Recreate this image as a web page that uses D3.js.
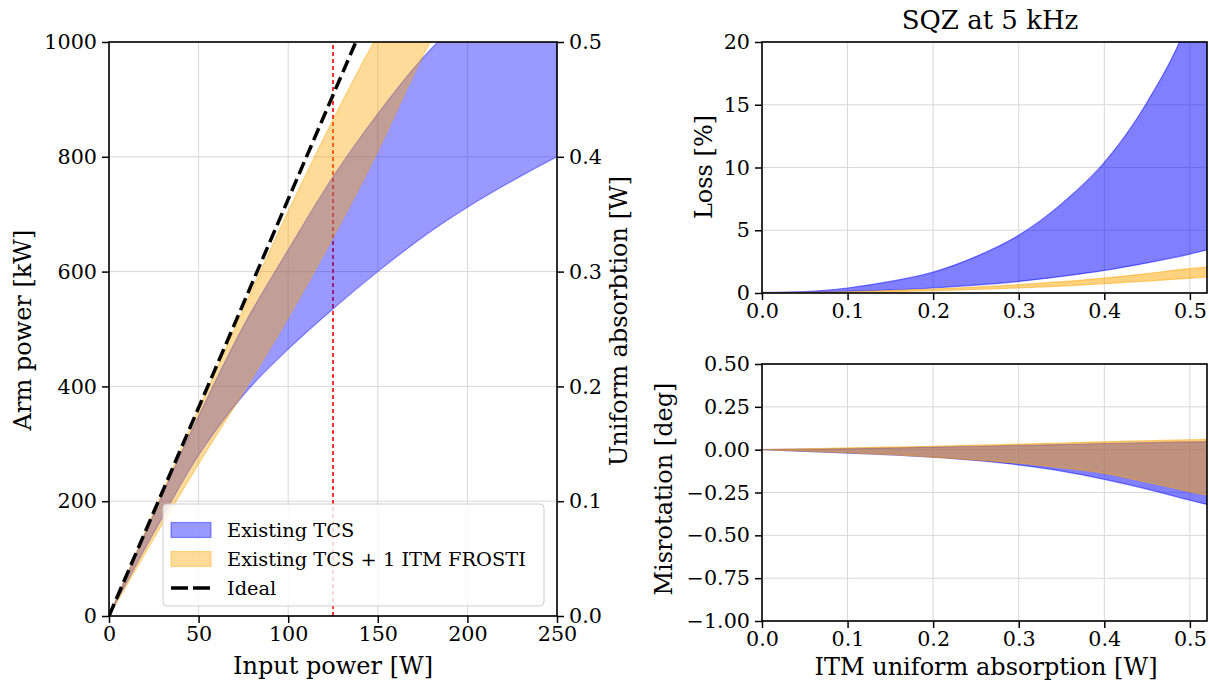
<!DOCTYPE html>
<html>
<head>
<meta charset="utf-8">
<title>Arm power and SQZ</title>
<script src="https://cdnjs.cloudflare.com/ajax/libs/d3/7.8.5/d3.min.js"></script>
<style>
body { margin: 0; background: #fff; }
svg text { font-family: "DejaVu Serif", "Liberation Serif", serif; fill: #000; }
</style>
</head>
<body>
<svg id="chart" width="1209" height="682"></svg>
<script>
// left panel: arm power vs input power
var inputPower = [0, 25, 50, 75, 100, 125, 150, 175, 200, 225, 250];
var tcsArmHigh = [0, 178, 348, 505, 638, 765, 875, 972, 1050, 1120, 1180];
var tcsArmLow = [0, 145, 280, 385, 465, 535, 600, 660, 712, 758, 800];
var frostiArmHigh = [0, 181, 360, 535, 705, 865, 1013, 1150, 1280, 1400, 1510];
var frostiArmLow = [0, 135, 265, 390, 520, 660, 810, 975, 1110, 1240, 1360];
var idealInput = [0, 250];
var idealArm = [0, 1815];
var markerInput = 125;

var powerTicks = [0, 50, 100, 150, 200, 250];
var armTicks = [0, 200, 400, 600, 800, 1000];
var absTicksRight = [0.0, 0.1, 0.2, 0.3, 0.4, 0.5];

// right panels: squeezing at 5 kHz vs ITM absorption
var absorption = [0, 0.05, 0.1, 0.15, 0.2, 0.25, 0.3, 0.35, 0.4, 0.45, 0.5, 0.52];
var tcsLossHigh = [0.05, 0.12, 0.4, 0.92, 1.66, 2.9, 4.6, 7.1, 10.4, 15.2, 22, 26];
var tcsLossLow = [0.05, 0.08, 0.13, 0.24, 0.4, 0.63, 0.92, 1.32, 1.8, 2.4, 3.1, 3.43];
var frostiLossHigh = [0.03, 0.05, 0.1, 0.2, 0.32, 0.48, 0.66, 0.9, 1.19, 1.55, 1.95, 2.06];
var frostiLossLow = [0.02, 0.03, 0.06, 0.11, 0.18, 0.28, 0.4, 0.55, 0.74, 0.95, 1.18, 1.27];
var tcsMisHigh = [0, 0.003, 0.006, 0.01, 0.015, 0.02, 0.025, 0.03, 0.036, 0.041, 0.045, 0.046];
var tcsMisLow = [0, -0.01, -0.02, -0.03, -0.044, -0.063, -0.089, -0.125, -0.173, -0.23, -0.295, -0.32];
var frostiMisHigh = [0, 0.005, 0.01, 0.015, 0.02, 0.026, 0.032, 0.039, 0.046, 0.052, 0.058, 0.06];
var frostiMisLow = [0, -0.008, -0.018, -0.028, -0.044, -0.06, -0.079, -0.105, -0.137, -0.19, -0.245, -0.266];

var absTicks = [0.0, 0.1, 0.2, 0.3, 0.4, 0.5];
var lossTicks = [0, 5, 10, 15, 20];
var misTicks = [0.5, 0.25, 0, -0.25, -0.5, -0.75, -1.0];

var BLUE = '#0000ff', ORANGE = '#ffa500';
var FONT = '"DejaVu Serif", "Liberation Serif", serif';
var TICK = '20.7px', LABEL = '24px';
var svg = d3.select('#chart');

function pairs(xs, ys) { return xs.map(function (x, i) { return [x, ys[i]]; }); }
function minus(v, f) { return d3.format(f)(v).replace('-', '\u2212'); }

function styleAxis(ax) {
    ax.attr('font-family', FONT);
    ax.selectAll('.domain').remove();
    ax.selectAll('.tick line').attr('stroke', '#000').attr('stroke-width', 1.5);
    ax.selectAll('.tick text').style('font-family', FONT).style('font-size', TICK);
}

function panel(id, x, y, xDom, yDom, xt, yt, xf, yf) {
    var p = {};
    p.sx = d3.scaleLinear().domain(xDom).range(x);
    p.sy = d3.scaleLinear().domain(yDom).range(y);
    p.g = svg.append('g');
    svg.append('clipPath').attr('id', id).append('rect')
        .attr('x', x[0]).attr('y', y[1]).attr('width', x[1] - x[0]).attr('height', y[0] - y[1]);
    // grid
    p.g.selectAll('.gx').data(xt).enter().append('line')
        .attr('x1', function (d) { return p.sx(d); }).attr('x2', function (d) { return p.sx(d); })
        .attr('y1', y[0]).attr('y2', y[1]).attr('stroke', '#d8d8d8').attr('stroke-width', 1);
    p.g.selectAll('.gy').data(yt).enter().append('line')
        .attr('y1', function (d) { return p.sy(d); }).attr('y2', function (d) { return p.sy(d); })
        .attr('x1', x[0]).attr('x2', x[1]).attr('stroke', '#d8d8d8').attr('stroke-width', 1);
    p.plot = svg.append('g').attr('clip-path', 'url(#' + id + ')');
    p.axes = function () {
        var bx = svg.append('g').attr('transform', 'translate(0,' + y[0] + ')')
            .call(d3.axisBottom(p.sx).tickValues(xt).tickSize(7).tickPadding(3)
                .tickFormat(function (d) { return minus(d, xf); }));
        var lx = svg.append('g').attr('transform', 'translate(' + x[0] + ',0)')
            .call(d3.axisLeft(p.sy).tickValues(yt).tickSize(7).tickPadding(5)
                .tickFormat(function (d) { return minus(d, yf); }));
        styleAxis(bx); styleAxis(lx);
        svg.append('rect').attr('x', x[0]).attr('y', y[1]).attr('width', x[1] - x[0]).attr('height', y[0] - y[1])
            .attr('fill', 'none').attr('stroke', '#000').attr('stroke-width', 1.6);
    };
    return p;
}

function band(p, xs, lo, hi, color, alpha) {
    var area = d3.area()
        .x(function (d) { return p.sx(d[0]); })
        .y0(function (d) { return p.sy(d[1]); })
        .y1(function (d) { return p.sy(d[2]); })
        .curve(d3.curveMonotoneX);
    var data = xs.map(function (x, i) { return [x, lo[i], hi[i]]; });
    p.plot.append('path').datum(data).attr('d', area)
        .attr('fill', color).attr('fill-opacity', alpha)
        .attr('stroke', color).attr('stroke-opacity', alpha).attr('stroke-width', 1.2);
}

function label(x, y, rot, size, txt) {
    svg.append('text').attr('transform', 'translate(' + x + ',' + y + ')' + (rot ? ' rotate(-90)' : ''))
        .attr('text-anchor', 'middle').style('font-family', FONT).style('font-size', size).text(txt);
}

// ---------- left panel ----------
var L = panel('clipL', [109, 557], [616, 42], [0, 250], [0, 1000], powerTicks, armTicks, 'd', 'd');
L.plot.append('line')
    .attr('x1', L.sx(markerInput)).attr('x2', L.sx(markerInput))
    .attr('y1', 616).attr('y2', 42)
    .attr('stroke', 'red').attr('stroke-width', 1.6).attr('stroke-dasharray', '4,3');
band(L, inputPower, tcsArmLow, tcsArmHigh, BLUE, 0.4);
band(L, inputPower, frostiArmLow, frostiArmHigh, ORANGE, 0.4);
L.plot.append('path').datum(pairs(idealInput, idealArm))
    .attr('d', d3.line().x(function (d) { return L.sx(d[0]); }).y(function (d) { return L.sy(d[1]); }))
    .attr('fill', 'none').attr('stroke', '#000').attr('stroke-width', 3.5).attr('stroke-dasharray', '13,5.5');
L.axes();

var rightScale = d3.scaleLinear().domain([0, 0.5]).range([616, 42]);
var ra = svg.append('g').attr('transform', 'translate(557,0)')
    .call(d3.axisRight(rightScale).tickValues(absTicksRight).tickSize(7).tickPadding(5).tickFormat(d3.format('.1f')));
styleAxis(ra);

label(333, 674, false, LABEL, 'Input power [W]');
label(31, 330, true, LABEL, 'Arm power [kW]');
label(627, 321, true, LABEL, 'Uniform absorbtion [W]');

// legend
var lg = svg.append('g');
lg.append('rect').attr('x', 163).attr('y', 504).attr('width', 381).attr('height', 102).attr('rx', 4)
    .attr('fill', '#fff').attr('fill-opacity', 0.8).attr('stroke', '#cccccc');
var legendItems = [
    { label: 'Existing TCS', color: BLUE, type: 'patch' },
    { label: 'Existing TCS + 1 ITM FROSTI', color: ORANGE, type: 'patch' },
    { label: 'Ideal', color: '#000', type: 'line' }
];
legendItems.forEach(function (d, i) {
    var cy = 530 + i * 29;
    if (d.type === 'patch') {
        lg.append('rect').attr('x', 171).attr('y', cy - 7.5).attr('width', 40).attr('height', 15)
            .attr('fill', d.color).attr('fill-opacity', 0.4)
            .attr('stroke', d.color).attr('stroke-opacity', 0.4).attr('stroke-width', 1.2);
    } else {
        lg.append('line').attr('x1', 171).attr('x2', 211).attr('y1', cy).attr('y2', cy)
            .attr('stroke', d.color).attr('stroke-width', 3.5).attr('stroke-dasharray', '17,5');
    }
    lg.append('text').attr('x', 227).attr('y', cy).attr('dy', '0.35em')
        .style('font-family', FONT).style('font-size', '19.4px').text(d.label);
});

// ---------- right top: loss ----------
var T = panel('clipT', [762, 1207], [293, 42], [0, 0.52], [0, 20], absTicks, lossTicks, '.1f', 'd');
band(T, absorption, tcsLossLow, tcsLossHigh, BLUE, 0.5);
band(T, absorption, frostiLossLow, frostiLossHigh, ORANGE, 0.5);
T.axes();
label(990, 29, false, '26px', 'SQZ at 5 kHz');
label(712, 167, true, LABEL, 'Loss [%]');

// ---------- right bottom: misrotation ----------
var B = panel('clipB', [762, 1207], [621, 364], [0, 0.52], [-1, 0.5], absTicks, misTicks, '.1f', '.2f');
band(B, absorption, tcsMisLow, tcsMisHigh, BLUE, 0.5);
band(B, absorption, frostiMisLow, frostiMisHigh, ORANGE, 0.5);
B.axes();
label(986, 675, false, LABEL, 'ITM uniform absorption [W]');
label(672, 489, true, LABEL, 'Misrotation [deg]');
</script>
</body>
</html>
